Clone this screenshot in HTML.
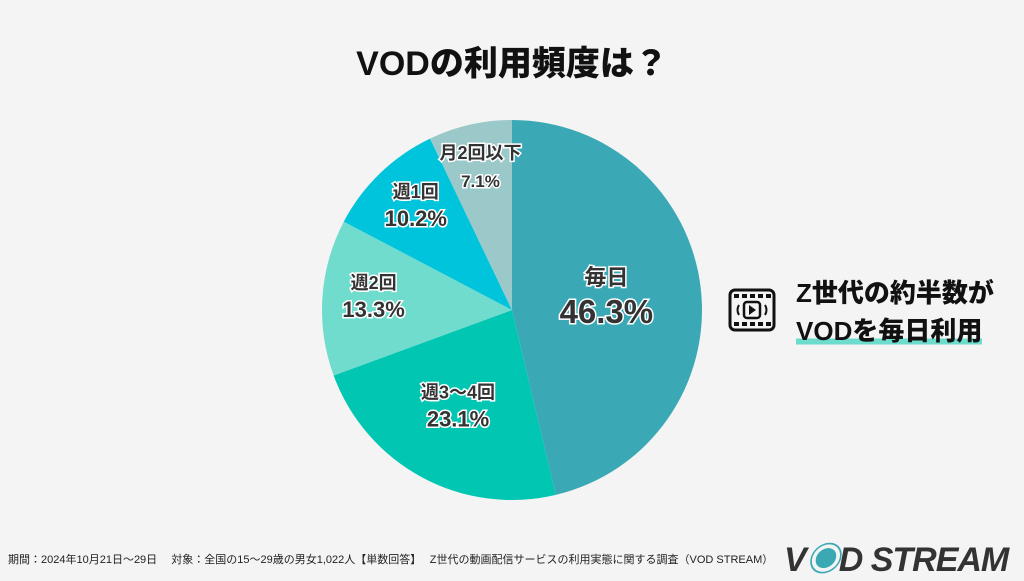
<!DOCTYPE html>
<html><head><meta charset="utf-8">
<style>
body{margin:0;width:1024px;height:576px;background:#f4f4f4;overflow:hidden;font-family:"Liberation Sans","Noto Sans CJK JP",sans-serif;position:relative}
.t{position:absolute;left:0;width:1024px;top:36px;text-align:center;font-size:34px;font-weight:900;color:#111}
.call{position:absolute;left:796px;top:274px;font-size:26px;font-weight:900;color:#111;line-height:38px}
.hl{background:linear-gradient(transparent 75%,#6ddccc 75%,#6ddccc 95%,transparent 95%)}
.foot{position:absolute;left:8px;top:551px;font-size:11px;color:#222;white-space:pre}
.logo{position:absolute;left:784px;top:532px;font-size:34px;font-weight:900;font-style:italic;color:#333;letter-spacing:-1px}
</style></head><body>
<div class="t">VODの利用頻度は？</div>
<svg width="1024" height="576" style="position:absolute;left:0;top:0" id="chart"></svg>
<svg style="position:absolute;left:728px;top:288px" width="48" height="44">
<rect x="2" y="2" width="44" height="40" rx="5" fill="none" stroke="#111" stroke-width="3"/>
<g fill="#111"><rect x="6" y="6" width="5" height="4"/><rect x="14" y="6" width="5" height="4"/><rect x="22" y="6" width="5" height="4"/><rect x="30" y="6" width="5" height="4"/><rect x="38" y="6" width="5" height="4"/>
<rect x="6" y="34" width="5" height="4"/><rect x="14" y="34" width="5" height="4"/><rect x="22" y="34" width="5" height="4"/><rect x="30" y="34" width="5" height="4"/><rect x="38" y="34" width="5" height="4"/></g>
<rect x="16" y="14" width="16" height="16" rx="3" fill="none" stroke="#111" stroke-width="2.5"/><path d="M21 17 L28 22 L21 27Z" fill="#111"/>
<path d="M11 17 Q8 22 11 27 M37 17 Q40 22 37 27" stroke="#111" stroke-width="2" fill="none"/></svg>
<div class="call">Z世代の約半数が<br><span class="hl">VODを毎日利用</span></div>
<div class="foot">期間：2024年10月21日〜29日　 対象：全国の15〜29歳の男女1,022人【単数回答】　 Z世代の動画配信サービスの利用実態に関する調査（VOD STREAM）</div>
<div class="logo">V<span style="color:#3aa9b4">◉</span>D STREAM</div>
<script>
const categories=["毎日","週3〜4回","週2回","週1回","月2回以下"];
const values=[46.3,23.1,13.3,10.2,7.1];
const colors=["#3ba9b5","#00c6b2","#6fdccd","#00c3dc","#9bc9c9"];
const labelR=[0.5,0.6,0.73,0.73,0.75];
const cx=512,cy=310,R=190;
const svg=document.getElementById('chart');
const NS="http://www.w3.org/2000/svg";
const total=values.reduce((a,b)=>a+b,0);
function pt(a,r){return [cx+r*Math.sin(a),cy-r*Math.cos(a)];}
let acc=0;
values.forEach((v,i)=>{
 const a0=acc/total*2*Math.PI;acc+=v;const a1=acc/total*2*Math.PI;
 const p0=pt(a0,R),p1=pt(a1,R);
 const path=document.createElementNS(NS,'path');
 path.setAttribute('d',`M${cx} ${cy} L${p0[0]} ${p0[1]} A${R} ${R} 0 ${a1-a0>Math.PI?1:0} 1 ${p1[0]} ${p1[1]} Z`);
 path.setAttribute('fill',colors[i]);
 
 
 svg.appendChild(path);
});
acc=0;
values.forEach((v,i)=>{
 const am=(acc+v/2)/total*2*Math.PI;acc+=v;
 const p=pt(am,R*labelR[i]);
 const big=i===0;
 [[categories[i],big?-14:-12,big?22:18],[v.toFixed(1)+'%',big?24:16,big?33:(i===4?17:22)]].forEach((d,j)=>{
  const t=document.createElementNS(NS,'text');
  t.setAttribute('x',p[0]);t.setAttribute('y',p[1]+d[1]);
  t.setAttribute('text-anchor','middle');
  t.setAttribute('font-size',d[2]);t.setAttribute('font-weight','bold');
  t.setAttribute('fill','#333');t.setAttribute('stroke','#fff');t.setAttribute('stroke-width','3');
  t.setAttribute('paint-order','stroke');
  t.textContent=d[0];
  
  
  svg.appendChild(t);
 });
});
</script>
</body></html>
